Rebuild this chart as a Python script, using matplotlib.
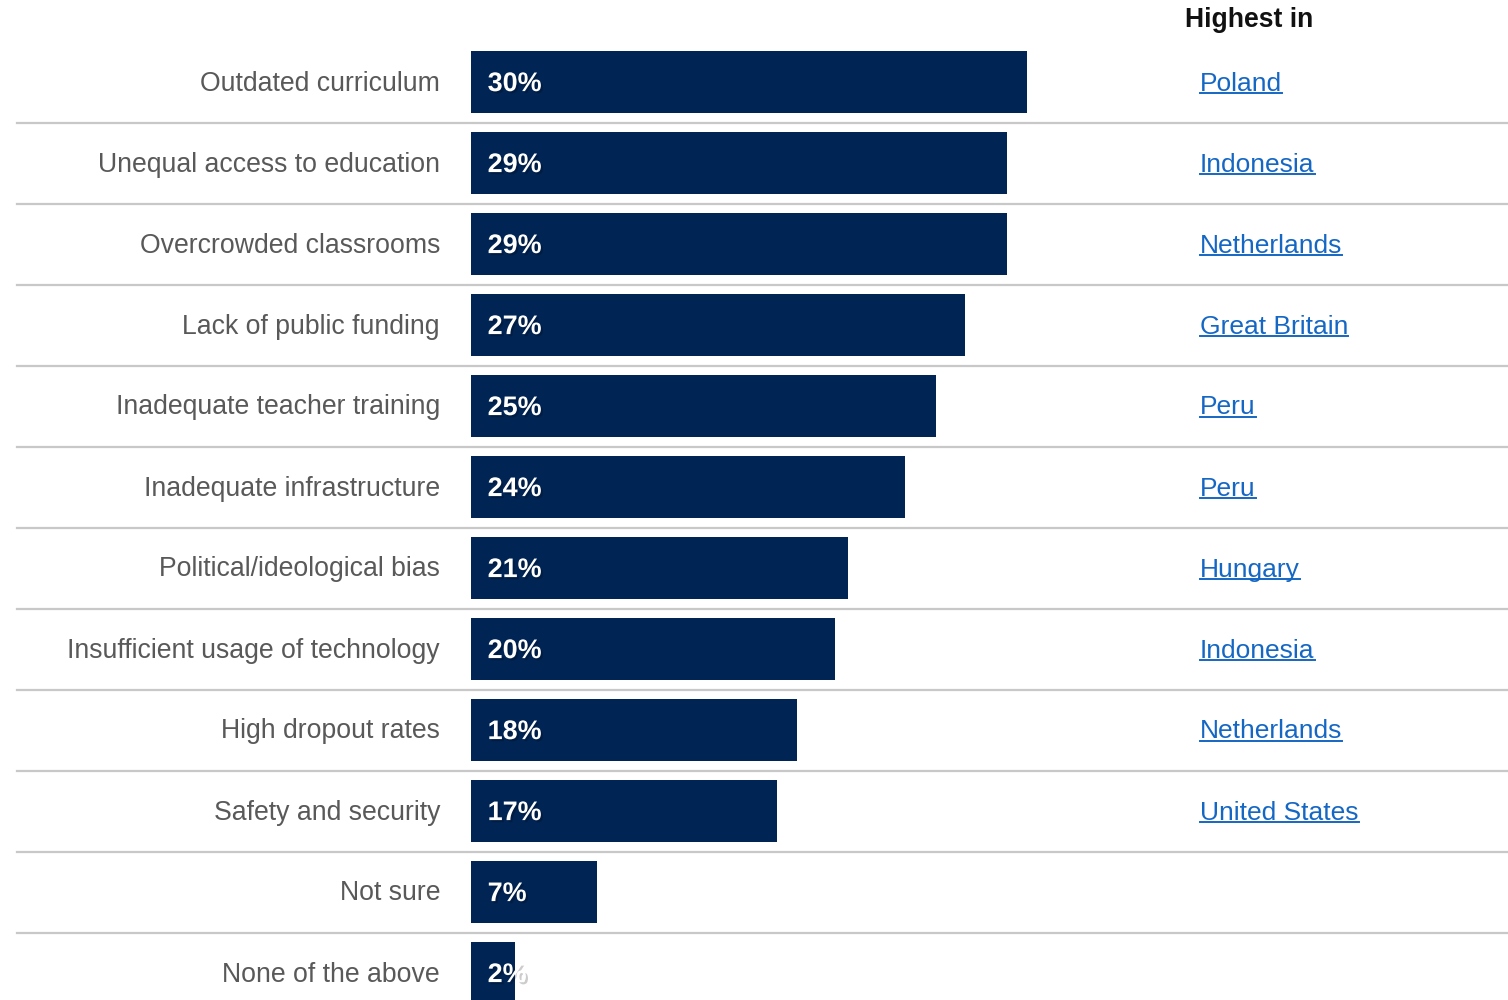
import matplotlib
matplotlib.use("Agg")
import matplotlib.pyplot as plt
import matplotlib.patheffects as pe
from matplotlib.lines import Line2D
from matplotlib.transforms import blended_transform_factory

plt.rcParams['font.family'] = ['Liberation Sans', 'DejaVu Sans']

issues = ["Outdated curriculum", "Unequal access to education", "Overcrowded classrooms",
          "Lack of public funding", "Inadequate teacher training", "Inadequate infrastructure",
          "Political/ideological bias", "Insufficient usage of technology", "High dropout rates",
          "Safety and security", "Not sure", "None of the above"]
shares = [30.4, 29.3, 29.3, 27.0, 25.4, 23.7, 20.6, 19.9, 17.8, 16.7, 6.9, 2.4]
highest_in = ["Poland", "Indonesia", "Netherlands", "Great Britain", "Peru", "Peru",
              "Hungary", "Indonesia", "Netherlands", "United States", "", ""]

navy = "#002454"
grey_text = "#595959"
link_blue = "#1567c4"

W, H = 1508, 1000
fig = plt.figure(figsize=(W / 100, H / 100), dpi=100)

# bar area starts at the left edge of the bars, 18.3 px per percentage point
px_per_pct = 18.3
x0 = 471
row_h = 81
first_row = 82
ax = fig.add_axes([x0 / W, 0, (W - x0) / W, 1])
ax.set_xlim(0, (W - x0) / px_per_pct)
ax.set_ylim((H - first_row) / row_h, -first_row / row_h)
ax.axis("off")

rows = list(range(len(issues)))
ax.barh(rows, shares, height=62 / row_h, color=navy, left=0)

fig_y = blended_transform_factory(fig.transFigure, ax.transData)
nudge = 1.5 / row_h  # text sits a touch below the row centre

for i, (name, v, country) in enumerate(zip(issues, shares, highest_in)):
    fig.text(440 / W, i + nudge, name, transform=fig_y, ha="right", va="center",
             fontsize=19.2, color=grey_text)
    ax.annotate(f"{v:.0f}%", xy=(0, i), xytext=(12, -1.5), textcoords="offset points",
                ha="left", va="center", fontsize=19.4, fontweight="bold", color="white",
                path_effects=[pe.withSimplePatchShadow(offset=(1.5, -1.5),
                                                       shadow_rgbFace="black", alpha=0.2)])
    if country:
        fig.text(1200 / W, i + nudge, country, transform=fig_y, ha="left", va="center",
                 fontsize=19, color=link_blue)
    if i < len(issues) - 1:
        fig.add_artist(Line2D([17 / W, 1.0], [i + 0.5, i + 0.5], transform=fig_y,
                              color="#c8c8c8", lw=1.6))

fig.text(1249 / W, (20 - first_row) / row_h, "Highest in", transform=fig_y,
         ha="center", va="center", fontsize=19.1, fontweight="bold", color="#111111")

# underline the country links
fig.canvas.draw()
renderer = fig.canvas.get_renderer()
for t in fig.texts:
    if t.get_color() == link_blue:
        bb = t.get_window_extent(renderer)
        y = (bb.y0 + 2.5) / H
        fig.add_artist(Line2D([bb.x0 / W, bb.x1 / W], [y, y], transform=fig.transFigure,
                              color=link_blue, lw=1.4))

fig.savefig("out.png", dpi=100, facecolor="white")
